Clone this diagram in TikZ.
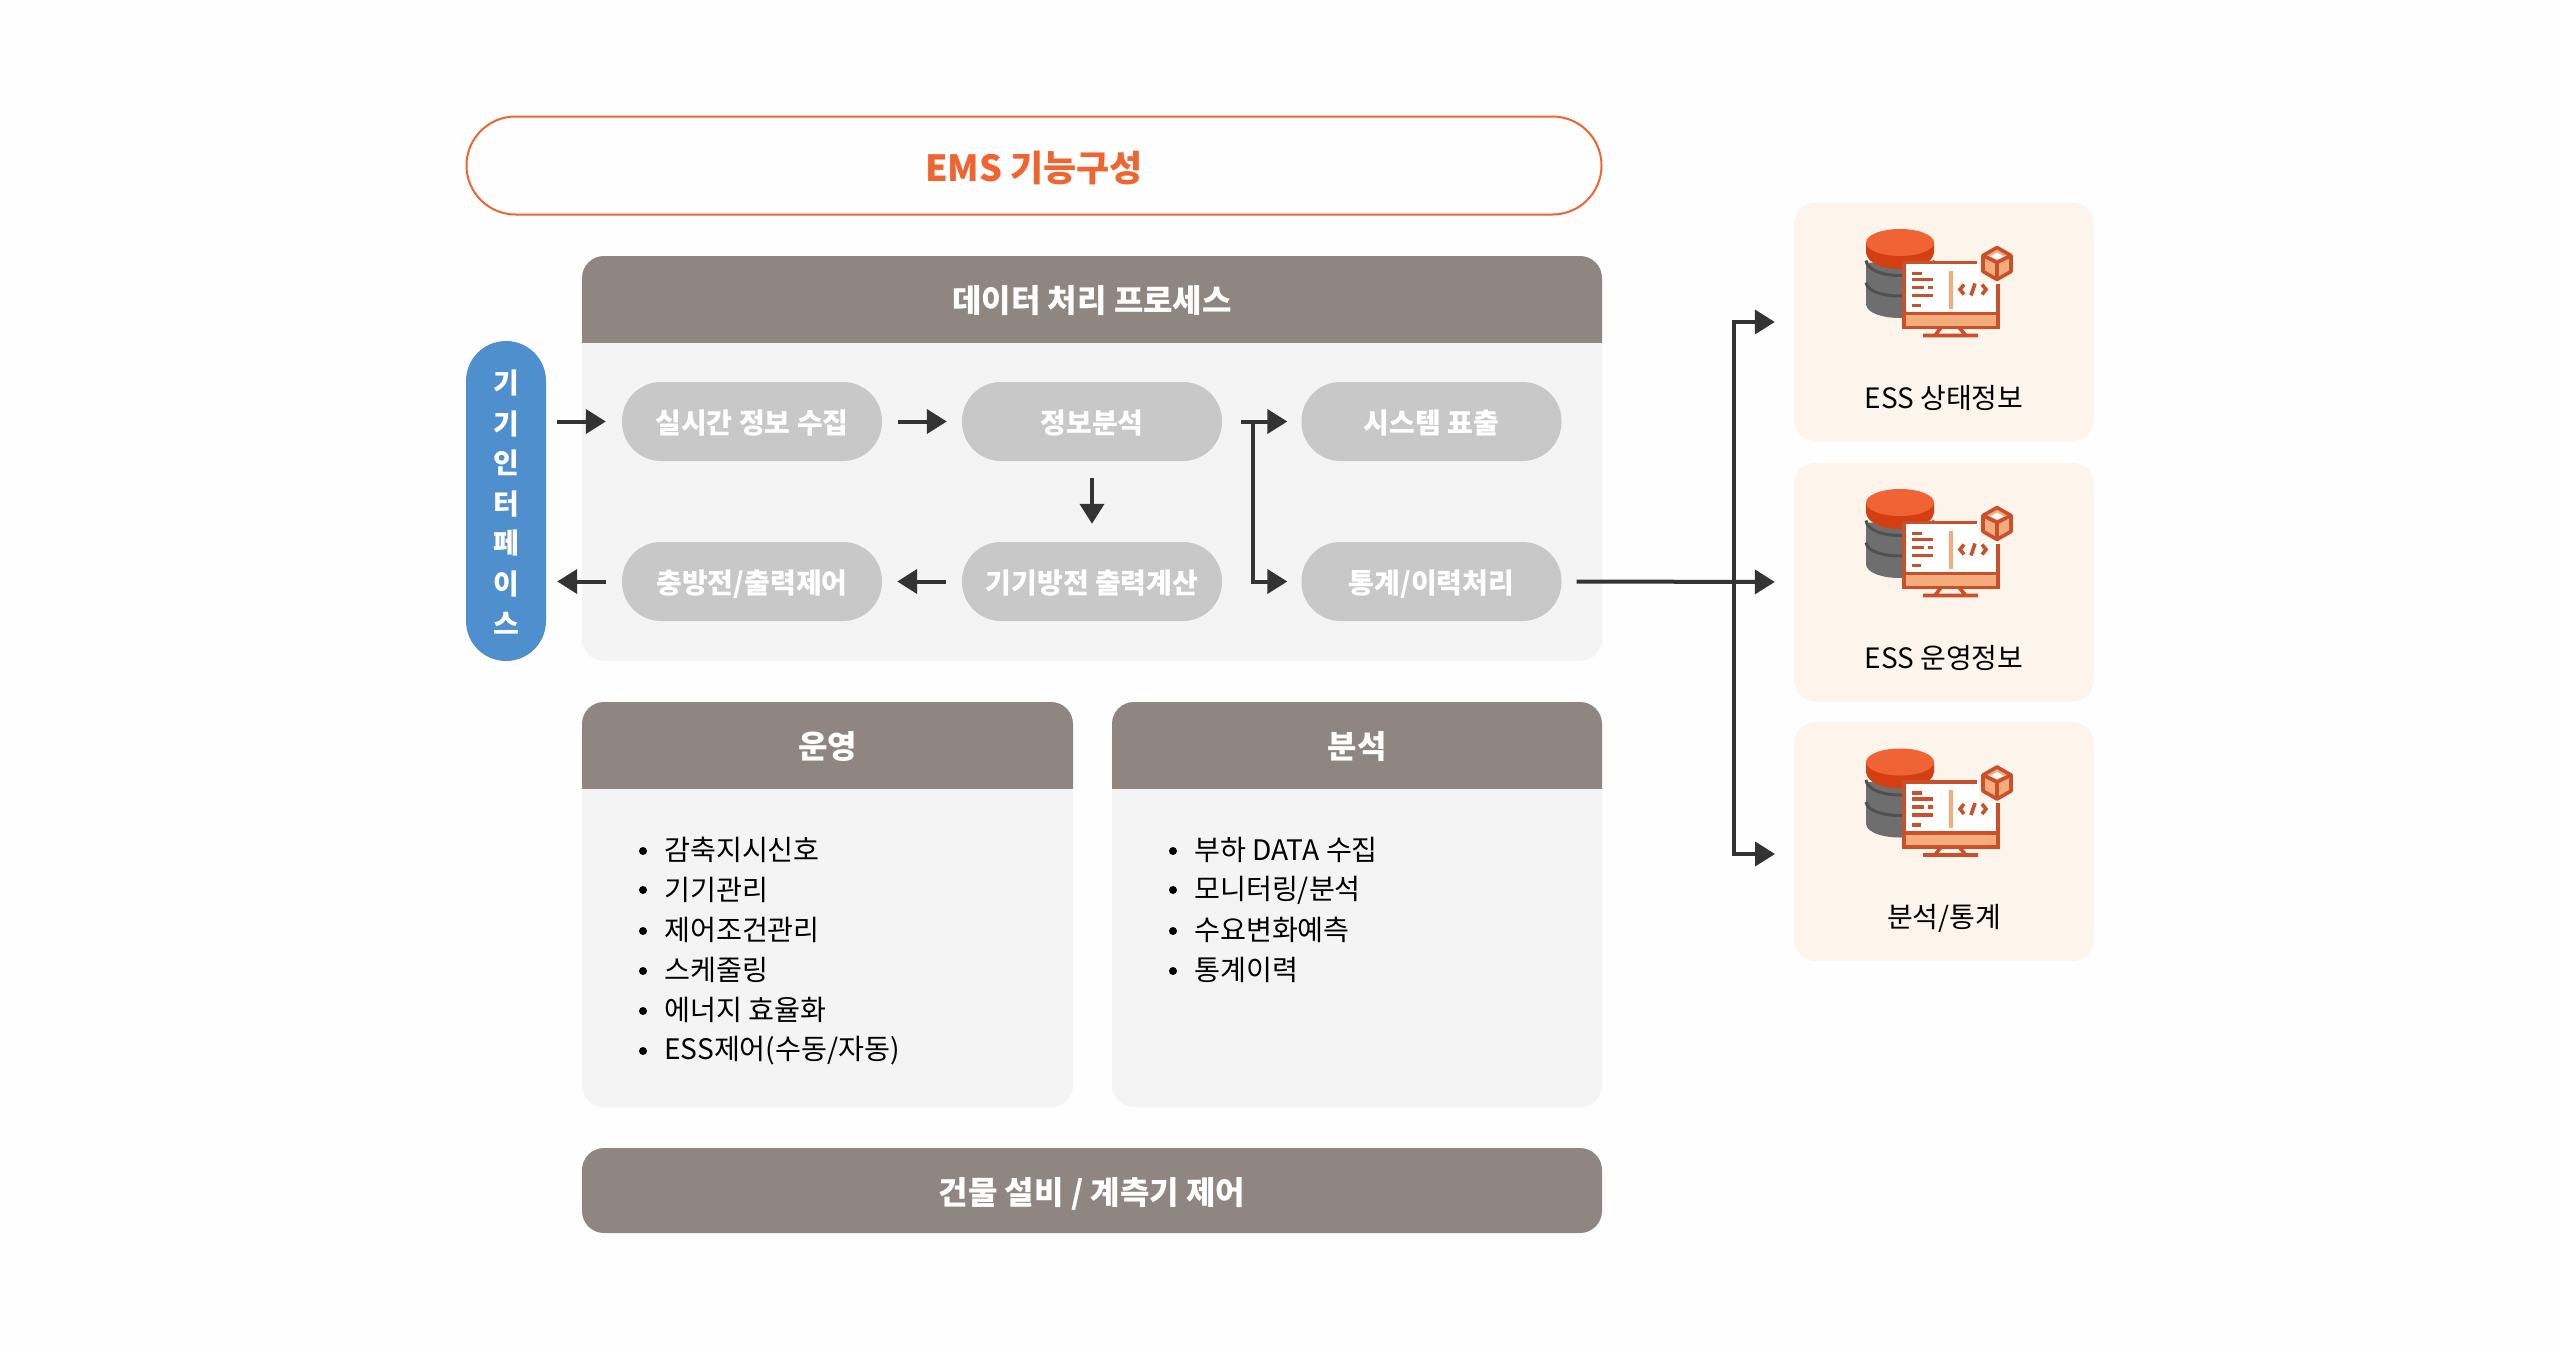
\documentclass[tikz,border=0pt]{standalone}
\usepackage{fontspec}
\setmainfont{Noto Sans CJK KR}
\usetikzlibrary{arrows.meta}
\definecolor{hdrc}{HTML}{8F8581}
\definecolor{panelc}{HTML}{F4F4F4}
\definecolor{pillc}{HTML}{C8C8C8}
\definecolor{cardc}{HTML}{FDF4EC}
\definecolor{orangec}{HTML}{F0642F}
\definecolor{bluec}{HTML}{4F8FCE}
\definecolor{arrc}{HTML}{333333}
\definecolor{iconl}{HTML}{C9502A}
\definecolor{iconf}{HTML}{F4AC7C}
\definecolor{pagec}{HTML}{FEFEFE}
\definecolor{cylred}{HTML}{D43F12}
\definecolor{cyltop}{HTML}{EF6335}
\definecolor{cylg}{HTML}{6E6E6E}
\definecolor{cyld}{HTML}{505050}
\newcommand{\fsz}[1]{\fontsize{#1}{#1}\selectfont}
\tikzset{
  x=1pt,y=-1pt,
  arr/.style={draw=arrc,line width=4pt,-{Triangle[length=20pt,width=24pt]}},
  pill/.style={fill=pillc,rounded corners=39pt,minimum width=260pt,minimum height=79pt,inner sep=0pt,text=white,font=\fsz{28}\bfseries,text height=26pt,text depth=2.6pt},
  panel/.style={fill=panelc,rounded corners=22pt,inner sep=0pt},
  hdr/.style={fill=hdrc},
  hdrtext/.style={text=white,font=\fsz{32}\bfseries,inner sep=0pt,text height=30pt,text depth=2.6pt},
  ifacetext/.style={text=white,font=\fsz{28}\bfseries,inner sep=0pt},
  card/.style={fill=cardc,rounded corners=22pt,minimum width=300pt,minimum height=239pt,inner sep=0pt},
  cardtext/.style={font=\fsz{28},text=black,inner sep=0pt},
  bodytext/.style={font=\fsz{28.2},text=black,inner sep=0pt,anchor=west},
  bul/.style={circle,fill=black,minimum size=8pt,inner sep=0pt},
  iline/.style={draw=iconl,line width=3.6pt},
  essicon/.pic={
    % cylinder
    \fill[cylg] (72,60) -- (72,102) .. controls (74,120) and (138,120) .. (140,102) -- (140,60) -- cycle;
    \draw[cyld,line width=3pt] (72,80) .. controls (74,98) and (138,98) .. (140,80);
    \draw[cyld,line width=3pt] (72,58) .. controls (74,78) and (138,78) .. (140,58);
    \fill[cylred] (72,40) -- (72,50) .. controls (74,72) and (138,72) .. (140,50) -- (140,40) -- cycle;
    \fill[cyltop] (106,40) ellipse[x radius=34,y radius=13.5];
    % monitor
    \fill[white] (110,60) rectangle (204,125);
    \fill[cardc] (185,48) rectangle (215,80);
    \fill[iconf] (110,111) rectangle (204,125);
    \draw[iline] (183,60) -- (110,60) -- (110,125) -- (204,125) -- (204,81);
    \draw[iline] (110,111) -- (204,111);
    \draw[iconf,line width=3.6pt] (157,68) -- (157,106);
    \draw[iline] (118,71) -- (128,71);
    \draw[iline] (118,77) -- (139,77);
    \draw[iline] (118,85) -- (130,85) (134,85) -- (139,85);
    \draw[iline] (118,93) -- (139,93);
    \draw[iline] (118,103) -- (127,103);
    % code mark
    \draw[iline] (170,82) -- (166,87) -- (170,92);
    \draw[iline] (181,81) -- (177,93);
    \draw[iline] (188,82) -- (192,87) -- (188,92);
    % stand
    \draw[iline] (147,125) -- (141,133) (165,125) -- (172,133) (129,133) -- (184,133);
    % cube
    \fill[iconf] (203,45) -- (217,53) -- (217,69) -- (203,77) -- (189,69) -- (189,53) -- cycle;
    \fill[white] (203,50) -- (210,54) -- (203,57) -- (196,54) -- cycle;
    \draw[iline,line join=round] (203,45) -- (217,53) -- (217,69) -- (203,77) -- (189,69) -- (189,53) -- cycle;
    \draw[iline] (189,53) -- (203,60) -- (217,53) (203,60) -- (203,77);
  }
}
\begin{document}
\begin{tikzpicture}
\useasboundingbox (0,0) rectangle (2560,1352);
\fill[pagec] (0,0) rectangle (2560,1352);

% title
\node[draw=orangec,line width=2pt,rounded corners=49pt,minimum width=1135pt,minimum height=98pt,inner sep=0pt,text=orangec,font=\fsz{36}\bfseries,text height=35.4pt,text depth=2.6pt] (title) at (1034,165.5) {EMS 기능구성};

% data processing panel
\node[panel,minimum width=1020pt,minimum height=405pt] (proc) at (1092,458.5) {};
\begin{scope}
\clip (582,256) rectangle (1602,342);
\fill[hdr,rounded corners=22pt] (582,256) rectangle (1602,400);
\end{scope}
\node[hdrtext] (proch) at (1092,299) {데이터 처리 프로세스};

% blue interface
\node[fill=bluec,rounded corners=40pt,minimum width=80pt,minimum height=320pt,inner sep=0pt] (iface) at (506,501) {};
\node[ifacetext] (i1) at (506,383) {기};
\node[ifacetext] (i2) at (506,424) {기};
\node[ifacetext] (i3) at (506,463) {인};
\node[ifacetext] (i4) at (506,504) {터};
\node[ifacetext] (i5) at (506,543) {페};
\node[ifacetext] (i6) at (506,584) {이};
\node[ifacetext] (i7) at (506,623) {스};

% pills
\node[pill] (a1) at (752,421.5) {실시간 정보 수집};
\node[pill] (a2) at (1092,421.5) {정보분석};
\node[pill] (a3) at (1431.5,421.5) {시스템 표출};
\node[pill] (b1) at (752,581.5) {충방전/출력제어};
\node[pill] (b2) at (1092,581.5) {기기방전 출력계산};
\node[pill] (b3) at (1431.5,581.5) {통계/이력처리};

% arrows in panel
\draw[arr,shorten <=11pt,shorten >=16pt] (iface.east|-a1.west) -- (a1.west);
\draw[arr,shorten <=16pt,shorten >=15pt] (a1.east) -- (a2.west);
\draw[arr,shorten <=17pt,shorten >=18pt] (a2.south) -- (b2.north);
\draw[arr,shorten <=16pt,shorten >=15pt] (b2.west) -- (b1.east);
\draw[arr,shorten <=16pt,shorten >=11pt] (b1.west) -- (iface.east|-b1.west);
\coordinate (fork) at (1253,421.5);
\draw[arr,shorten <=19pt,shorten >=14pt] (a2.east) -- (a3.west);
\draw[arr,shorten >=14pt] (fork) -- (fork|-b3.west) -- (b3.west);

% lower panels
\node[panel,minimum width=491pt,minimum height=405pt] (op) at (827.5,904.5) {};
\begin{scope}
\clip (582,702) rectangle (1073,788);
\fill[hdr,rounded corners=22pt] (582,702) rectangle (1073,840);
\end{scope}
\node[hdrtext] (oph) at (827.5,745) {운영};
\node[panel,minimum width=490pt,minimum height=405pt] (an) at (1357,904.5) {};
\begin{scope}
\clip (1112,702) rectangle (1602,788);
\fill[hdr,rounded corners=22pt] (1112,702) rectangle (1602,840);
\end{scope}
\node[hdrtext] (anh) at (1357,745) {분석};

\node[bul] (o1b) at (643,851) {}; \node[bodytext] (o1) at (664,850) {감축지시신호};
\node[bul] (o2b) at (643,890) {}; \node[bodytext] (o2) at (664,890) {기기관리};
\node[bul] (o3b) at (643,931) {}; \node[bodytext] (o3) at (664,930) {제어조건관리};
\node[bul] (o4b) at (643,971) {}; \node[bodytext] (o4) at (664,970) {스케줄링};
\node[bul] (o5b) at (643,1011) {}; \node[bodytext] (o5) at (664,1010) {에너지 효율화};
\node[bul] (o6b) at (643,1051) {}; \node[bodytext] (o6) at (664,1050.5) {ESS제어(수동/자동)};

\node[bul] (n1b) at (1173,851) {}; \node[bodytext] (n1) at (1194,850) {부하 DATA 수집};
\node[bul] (n2b) at (1173,890) {}; \node[bodytext] (n2) at (1194,890) {모니터링/분석};
\node[bul] (n3b) at (1173,931) {}; \node[bodytext] (n3) at (1194,930) {수요변화예측};
\node[bul] (n4b) at (1173,971) {}; \node[bodytext] (n4) at (1194,970) {통계이력};

% bottom bar
\node[fill=hdrc,rounded corners=22pt,minimum width=1020pt,minimum height=85pt,inner sep=0pt,text=white,font=\fsz{32}\bfseries,text height=30pt,text depth=2.6pt] (bot) at (1092,1190.5) {건물 설비 / 계측기 제어};

% right cards
\node[card] (c1) at (1944,322) {};
\node[card] (c2) at (1944,582) {};
\node[card] (c3) at (1944,841.5) {};
\pic at (1794,202.5) {essicon};
\pic at (1794,462.5) {essicon};
\pic at (1794,722) {essicon};
\node[cardtext] (c1t) at (1944,398) {ESS 상태정보};
\node[cardtext] (c2t) at (1944,658) {ESS 운영정보};
\node[cardtext] (c3t) at (1944,918) {분석/통계};

% outgoing arrows
\coordinate (trunk) at (1733.5,582);
\coordinate (lowtip) at (1794,854);
\draw[arr,shorten <=15pt,shorten >=19pt] (b3.east) -- (c2.west);
\draw[arr,shorten >=19pt] (trunk) -- (trunk|-c1.west) -- (c1.west);
\draw[arr,shorten >=19pt] (trunk) -- (trunk|-lowtip) -- (lowtip);
\end{tikzpicture}
\end{document}
